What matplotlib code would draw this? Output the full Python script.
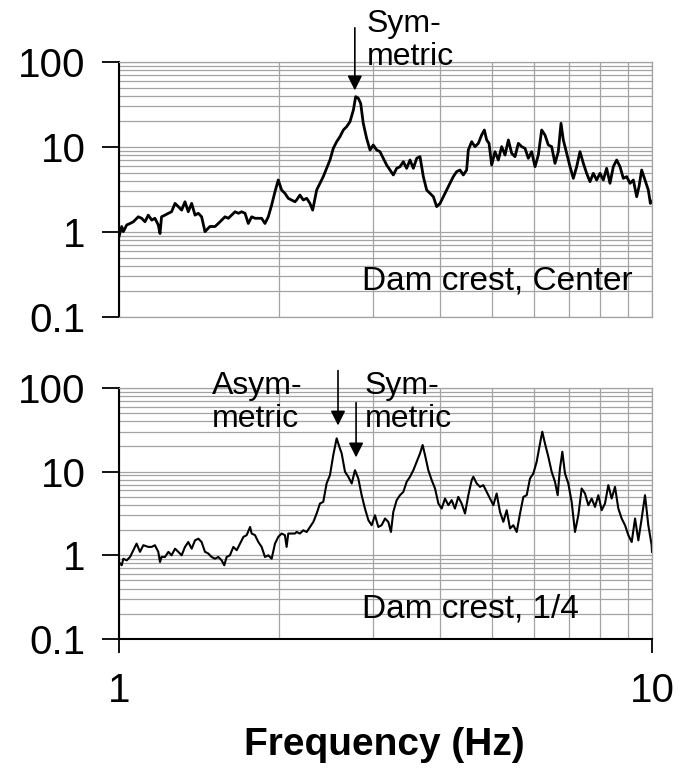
import matplotlib
matplotlib.use("Agg")
import matplotlib.pyplot as plt
from matplotlib.ticker import LogLocator, NullFormatter

plt.rcParams['font.family'] = ['Liberation Sans', 'DejaVu Sans']

# Dam crest, Center
top_freq = [1.000, 1.012, 1.019, 1.034, 1.049, 1.064, 1.087, 1.103, 1.119, 1.135,
            1.152, 1.168, 1.185, 1.194, 1.202, 1.220, 1.238, 1.255, 1.274, 1.292,
            1.311, 1.330, 1.349, 1.369, 1.389, 1.409, 1.429, 1.450, 1.481, 1.514,
            1.536, 1.558, 1.581, 1.604, 1.627, 1.651, 1.675, 1.699, 1.724, 1.748,
            1.774, 1.800, 1.826, 1.852, 1.879, 1.906, 1.934, 1.962, 1.990, 2.019,
            2.048, 2.078, 2.108, 2.139, 2.154, 2.185, 2.217, 2.250, 2.282, 2.309,
            2.349, 2.383, 2.417, 2.452, 2.488, 2.524, 2.561, 2.598, 2.636, 2.674,
            2.713, 2.753, 2.780, 2.812, 2.841, 2.873, 2.915, 2.958, 3.000, 3.044,
            3.088, 3.132, 3.178, 3.224, 3.271, 3.319, 3.367, 3.416, 3.465, 3.516,
            3.567, 3.619, 3.671, 3.724, 3.778, 3.833, 3.889, 3.945, 4.003, 4.060,
            4.119, 4.178, 4.239, 4.300, 4.363, 4.426, 4.490, 4.523, 4.589, 4.655,
            4.723, 4.791, 4.847, 4.896, 4.946, 5.003, 5.075, 5.149, 5.224, 5.300,
            5.377, 5.455, 5.534, 5.614, 5.696, 5.778, 5.861, 5.946, 6.033, 6.120,
            6.209, 6.298, 6.390, 6.483, 6.577, 6.672, 6.750, 6.818, 6.917, 7.018,
            7.119, 7.223, 7.327, 7.434, 7.541, 7.651, 7.761, 7.874, 7.988, 8.104,
            8.221, 8.341, 8.462, 8.585, 8.710, 8.836, 8.964, 9.095, 9.226, 9.360,
            9.455, 9.564, 9.703, 9.842, 9.930, 10.00]
top_amp = [0.88, 1.16, 1.01, 1.21, 1.26, 1.32, 1.51, 1.45, 1.32, 1.58,
           1.38, 1.45, 1.21, 0.96, 1.51, 1.58, 1.66, 1.73, 2.17, 1.99,
           1.81, 2.27, 1.73, 2.17, 1.58, 1.66, 1.51, 1.01, 1.16, 1.16,
           1.26, 1.38, 1.51, 1.45, 1.58, 1.73, 1.66, 1.73, 1.66, 1.26,
           1.51, 1.45, 1.45, 1.45, 1.26, 1.51, 2.08, 2.98, 4.09, 3.12,
           2.85, 2.49, 2.38, 2.27, 2.38, 2.72, 2.38, 2.49, 2.17, 1.81,
           3.12, 3.74, 4.48, 5.61, 7.03, 9.64, 11.55, 13.23, 15.85, 17.35,
           19.87, 27.25, 39.1, 37.4, 32.6, 18.98, 12.65, 9.22, 10.56, 9.22,
           8.81, 7.36, 6.14, 5.36, 4.69, 5.61, 5.87, 6.72, 5.61, 7.03,
           5.61, 7.36, 7.70, 4.48, 3.12, 2.85, 2.60, 1.99, 2.17, 2.60,
           3.12, 3.74, 4.48, 5.13, 5.36, 4.69, 5.36, 9.22, 11.55, 10.09,
           11.04, 13.84, 15.85, 12.09, 11.04, 6.14, 8.81, 7.03, 10.09, 8.05,
           12.09, 8.42, 7.70, 11.04, 10.09, 9.64, 7.36, 8.81, 5.87, 8.05,
           15.85, 13.84, 10.56, 10.09, 6.42, 8.81, 18.98, 12.09, 8.42, 5.87,
           4.28, 5.87, 8.81, 6.42, 4.90, 3.91, 4.90, 4.09, 4.90, 4.09,
           5.61, 3.74, 5.87, 7.03, 5.87, 4.28, 4.48, 3.74, 4.09, 2.60,
           3.42, 5.36, 4.09, 3.12, 2.17, 2.30]

# Dam crest, 1/4
bot_freq = [1.000, 1.012, 1.019, 1.034, 1.049, 1.064, 1.079, 1.095, 1.111, 1.135,
            1.152, 1.168, 1.185, 1.194, 1.202, 1.220, 1.238, 1.255, 1.274, 1.292,
            1.311, 1.330, 1.349, 1.369, 1.389, 1.409, 1.429, 1.450, 1.471, 1.492,
            1.514, 1.536, 1.558, 1.576, 1.592, 1.615, 1.639, 1.663, 1.687, 1.712,
            1.736, 1.762, 1.774, 1.800, 1.826, 1.852, 1.879, 1.906, 1.934, 1.962,
            1.990, 2.019, 2.048, 2.063, 2.078, 2.108, 2.139, 2.154, 2.185, 2.217,
            2.250, 2.282, 2.316, 2.349, 2.383, 2.417, 2.452, 2.488, 2.524, 2.561,
            2.591, 2.617, 2.655, 2.693, 2.733, 2.772, 2.812, 2.853, 2.894, 2.937,
            2.979, 3.022, 3.066, 3.110, 3.156, 3.201, 3.238, 3.271, 3.319, 3.367,
            3.416, 3.465, 3.516, 3.567, 3.619, 3.671, 3.713, 3.751, 3.805, 3.861,
            3.917, 3.974, 4.031, 4.090, 4.149, 4.209, 4.269, 4.331, 4.394, 4.459,
            4.523, 4.589, 4.622, 4.689, 4.757, 4.826, 4.896, 4.968, 5.039, 5.112,
            5.186, 5.262, 5.338, 5.416, 5.494, 5.574, 5.655, 5.737, 5.820, 5.904,
            5.990, 6.076, 6.165, 6.226, 6.298, 6.390, 6.483, 6.577, 6.653, 6.720,
            6.789, 6.867, 6.966, 7.068, 7.170, 7.275, 7.380, 7.487, 7.596, 7.706,
            7.818, 7.931, 8.046, 8.163, 8.281, 8.401, 8.523, 8.647, 8.773, 8.900,
            9.029, 9.161, 9.294, 9.428, 9.564, 9.703, 9.842, 9.986, 10.00]
bot_amp = [0.83, 0.76, 0.91, 0.87, 0.955, 1.15, 1.38, 1.10, 1.32, 1.26,
           1.26, 1.32, 1.10, 0.83, 0.955, 0.955, 1.10, 1.00, 1.20, 1.10,
           1.00, 1.26, 1.44, 1.20, 1.51, 1.58, 1.44, 1.10, 1.05, 0.955,
           0.91, 0.955, 0.87, 0.76, 0.955, 1.00, 1.26, 1.15, 1.38, 1.66,
           1.74, 2.18, 1.82, 1.74, 1.44, 1.26, 0.955, 1.00, 0.91, 1.38,
           1.66, 1.82, 1.74, 1.26, 1.82, 1.82, 1.82, 1.90, 1.82, 1.99,
           1.90, 2.18, 2.51, 3.16, 4.16, 4.35, 7.22, 9.08, 15.8, 25.0,
           19.8, 16.5, 9.95, 8.68, 7.22, 10.4, 8.28, 5.23, 3.62, 2.63,
           2.29, 3.01, 2.18, 2.29, 2.75, 2.51, 1.90, 3.30, 4.56, 5.23,
           5.73, 7.55, 8.68, 10.4, 13.1, 16.5, 20.8, 15.8, 10.4, 7.91,
           6.29, 4.16, 3.62, 4.77, 3.97, 4.56, 3.62, 4.99, 4.16, 3.16,
           5.23, 7.91, 8.68, 7.22, 6.58, 6.89, 5.73, 4.77, 3.97, 5.48,
           3.30, 2.51, 3.46, 2.09, 2.29, 1.90, 3.16, 4.99, 5.23, 8.28,
           9.51, 13.1, 21.7, 30.0, 21.7, 15.1, 9.95, 7.55, 5.23, 10.9,
           17.3, 9.51, 7.22, 4.35, 1.90, 3.01, 6.29, 5.48, 3.97, 4.77,
           3.79, 5.23, 3.46, 4.16, 6.89, 4.77, 6.58, 3.62, 2.75, 2.29,
           1.74, 1.44, 2.75, 1.51, 2.75, 5.23, 2.29, 1.32, 1.10]

y_ticks = [0.1, 1, 10, 100]
y_labels = ['0.1', '1', '10', '100']
x_ticks = [1, 10]
x_labels = ['1', '10']

fig = plt.figure(figsize=(6.81, 7.73), dpi=100)
ax1 = fig.add_axes([0.1747, 0.5899, 0.7827, 0.3299])
ax2 = fig.add_axes([0.1747, 0.1734, 0.7827, 0.3247])

grid_col = '#a3a3a3'
for ax in (ax1, ax2):
    ax.set_xscale('log')
    ax.set_yscale('log')
    ax.set_xlim(1, 10)
    ax.set_ylim(0.1, 100)
    ax.set_axisbelow(True)
    ax.xaxis.set_minor_locator(LogLocator(base=10, subs=range(2, 10)))
    ax.yaxis.set_minor_locator(LogLocator(base=10, subs=range(2, 10)))
    ax.xaxis.set_minor_formatter(NullFormatter())
    ax.yaxis.set_minor_formatter(NullFormatter())
    ax.grid(True, which='both', color=grid_col, lw=0.9)
    ax.set_yticks(y_ticks)
    ax.set_yticklabels(y_labels, fontsize=29)
    ax.tick_params(axis='y', which='major', direction='out', length=12, width=1.3, pad=12)
    ax.tick_params(which='minor', length=0)
    ax.spines['left'].set_linewidth(1.5)
    for s in ('top', 'right', 'bottom'):
        ax.spines[s].set_color(grid_col)
        ax.spines[s].set_linewidth(0.9)

# górny panel bez osi X
ax1.tick_params(axis='x', which='both', length=0, labelbottom=False)
ax2.spines['bottom'].set_color('black')
ax2.spines['bottom'].set_linewidth(1.5)
ax2.set_xticks(x_ticks)
ax2.set_xticklabels(x_labels, fontsize=29)
ax2.tick_params(axis='x', which='major', direction='out', length=10, width=1.3, pad=14)

ax1.plot(top_freq, top_amp, color='black', lw=2.0)
ax2.plot(bot_freq, bot_amp, color='black', lw=1.5)

arrow = dict(arrowstyle='-|>', color='black', lw=1.2, mutation_scale=22)
txt = dict(fontsize=23, linespacing=1.15, va='top', ha='left', clip_on=False)

# strzałki nad pikami
ax1.annotate('', xy=(2.77, 43), xytext=(2.77, 272), arrowprops=arrow, annotation_clip=False)
ax1.text(2.92, 420, 'Sym-\nmetric', **txt)
ax1.text(2.857, 0.208, 'Dam crest, Center', fontsize=24, va='baseline', ha='left')

ax2.annotate('', xy=(2.576, 33), xytext=(2.576, 174), arrowprops=arrow, annotation_clip=False)
ax2.annotate('', xy=(2.785, 13.7), xytext=(2.785, 72), arrowprops=arrow, annotation_clip=False)
ax2.text(1.494, 160, 'Asym-\nmetric', **txt)
ax2.text(2.894, 160, 'Sym-\nmetric', **txt)
ax2.text(2.857, 0.181, 'Dam crest, 1/4', fontsize=24, va='baseline', ha='left')

fig.text(0.565, 0.036, 'Frequency (Hz)', fontsize=28, fontweight='bold',
         ha='center', va='center')

fig.savefig('out.png', dpi=100)
